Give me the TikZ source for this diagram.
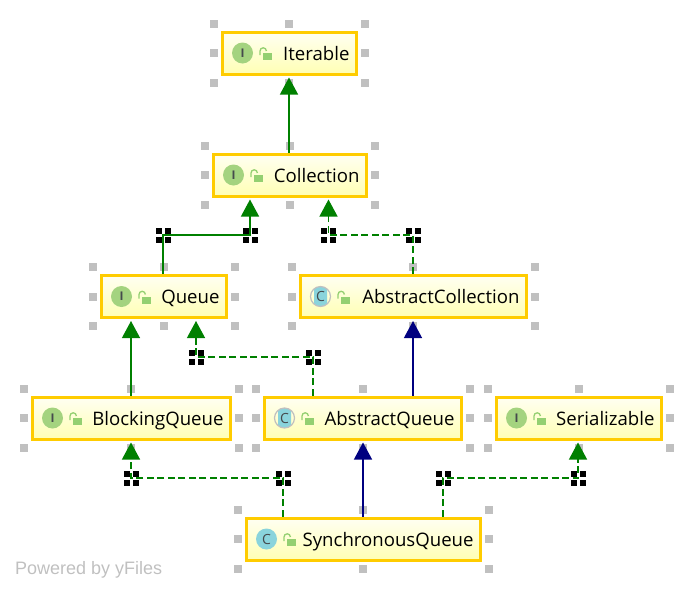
\documentclass[tikz,border=0pt]{standalone}
\usepackage{fontspec}
\setmainfont{Open Sans}
\newfontfamily\brandfont{Liberation Sans}
\usetikzlibrary{arrows.meta}

\definecolor{boxedge}{HTML}{FFCC00}
\definecolor{boxtop}{HTML}{FFFFF2}
\definecolor{boxbottom}{HTML}{FFFFB4}
\definecolor{handlegrey}{HTML}{C0C0C0}
\definecolor{ifacegreen}{HTML}{A4D37F}
\definecolor{classteal}{HTML}{8AD4DC}
\definecolor{lockgreen}{HTML}{94D071}
\definecolor{extgreen}{HTML}{008000}
\definecolor{extnavy}{HTML}{000080}
\definecolor{icontext}{HTML}{454A4C}

\tikzset{
	classbox/.style={rectangle, draw=boxedge, line width=3pt, top color=boxtop, bottom color=boxbottom, minimum height=42, inner xsep=6.5, inner ysep=0, text width=#1-15, text height=15, text depth=1, align=right, font=\fontsize{18.6}{20}\selectfont, text=black},
	ifaceicon/.style={circle, fill=ifacegreen, minimum size=21, inner sep=0, text=icontext, font=\fontsize{12}{12}\bfseries\rmfamily\selectfont},
	classicon/.style={circle, fill=classteal, minimum size=21, inner sep=0, text=icontext, font=\fontsize{14}{14}\selectfont},
	abstracticon/.style={circle, draw=handlegrey, line width=1.2pt, minimum size=20, inner sep=0, text=icontext, font=\fontsize{14}{14}\selectfont,
		path picture={\fill[classteal, rounded corners=2] ([xshift=-6.5,yshift=-10]path picture bounding box.center) rectangle ([xshift=6.5,yshift=10]path picture bounding box.center);}},
	bendmark/.style={rectangle, minimum size=16, inner sep=0,
		path picture={
			\foreach \sx in {-1,1}
				\foreach \sy in {-1,1}
					\fill[black] ([xshift=\sx*1.5,yshift=\sy*1.5]path picture bounding box.center) rectangle ([xshift=\sx*7.5,yshift=\sy*7.5]path picture bounding box.center);
		}},
	extends/.style={line width=1.25pt, shorten >=2, -{Triangle[length=17,width=18]}},
	realises/.style={extends, dash pattern=on 7 off 3.5}
}

% the eight grey squares round a class box
\newcommand{\handles}[1]{
	\foreach \anc/\dx/\dy in {north west/-7/7, north/0/7, north east/7/7, west/-7/0, east/7/0, south west/-7/-7, south/0/-7, south east/7/-7}
		\fill[handlegrey] ([xshift=\dx-4,yshift=\dy-4]#1.\anc) rectangle ([xshift=\dx+4,yshift=\dy+4]#1.\anc);
}

\begin{document}
\begin{tikzpicture}[x=1pt,y=-1pt]
	\useasboundingbox (0,0) rectangle (693,592);

	\pgfmathsetmacro{\rowone}{53}
	\pgfmathsetmacro{\rowtwo}{175}
	\pgfmathsetmacro{\rowthree}{296.5}
	\pgfmathsetmacro{\rowfour}{418}
	\pgfmathsetmacro{\rowfive}{539}

	%Class boxes
	\node [classbox=136] (iterable) at (289,\rowone) {Iterable};
	\node [classbox=155] (collection) at (289.5,\rowtwo) {Collection};
	\node [classbox=127] (queue) at (163.5,\rowthree) {Queue};
	\node [classbox=228] (abstractcollection) at (413,\rowthree) {AbstractCollection};
	\node [classbox=200] (blockingqueue) at (131,\rowfour) {BlockingQueue};
	\node [classbox=199] (abstractqueue) at (362.5,\rowfour) {AbstractQueue};
	\node [classbox=167] (serializable) at (578.5,\rowfour) {Serializable};
	\node [classbox=236] (synchronousqueue) at (363,\rowfive) {SynchronousQueue};

	\handles{iterable}
	\handles{collection}
	\handles{queue}
	\handles{abstractcollection}
	\handles{blockingqueue}
	\handles{abstractqueue}
	\handles{serializable}
	\handles{synchronousqueue}

	%Kind icons
	\node [ifaceicon] (iiterable) at ([xshift=22]iterable.west) {I};
	\node [ifaceicon] (icollection) at ([xshift=22]collection.west) {I};
	\node [ifaceicon] (iqueue) at ([xshift=22]queue.west) {I};
	\node [abstracticon] (iabstractcollection) at ([xshift=22]abstractcollection.west) {C};
	\node [ifaceicon] (iblockingqueue) at ([xshift=22]blockingqueue.west) {I};
	\node [abstracticon] (iabstractqueue) at ([xshift=22]abstractqueue.west) {C};
	\node [ifaceicon] (iserializable) at ([xshift=22]serializable.west) {I};
	\node [classicon] (isynchronousqueue) at ([xshift=22]synchronousqueue.west) {C};

	%Open locks
	\foreach \cname in {iterable,collection,queue,abstractcollection,blockingqueue,abstractqueue,serializable,synchronousqueue}{
		\fill[lockgreen] ([xshift=42,yshift=0]\cname.west) rectangle ([xshift=51,yshift=-7]\cname.west);
		\draw[lockgreen, line width=1.3pt] ([xshift=39.5,yshift=-2]\cname.west) -- ([xshift=39.5,yshift=2]\cname.west) arc[start angle=180, end angle=360, radius=3.2];
	}

	%Bend points
	\node [bendmark] (bqa) at (163,235) {};
	\node [bendmark] (bqb) at (250,235) {};
	\node [bendmark] (bca) at (413,235) {};
	\node [bendmark] (bcb) at (328.5,235) {};
	\node [bendmark] (baa) at (313,357) {};
	\node [bendmark] (bab) at (196,357) {};
	\node [bendmark] (bsa) at (283,478) {};
	\node [bendmark] (bsb) at (131,478) {};
	\node [bendmark] (bsc) at (443,478) {};
	\node [bendmark] (bsd) at (578,478) {};

	%Inheritance lines
	\draw [extends, extgreen] (iterable.south |- collection.north) -- (iterable.south);
	\draw [extends, extgreen] (queue.north -| bqa) -- (bqa.center) -- (bqb.center) -- (collection.south -| bqb);
	\draw [realises, extgreen] (abstractcollection.north -| bca) -- (bca.center) -- (bcb.center) -- (collection.south -| bcb);
	\draw [extends, extgreen] (blockingqueue.north) -- (blockingqueue.north |- queue.south);
	\draw [realises, extgreen] (abstractqueue.north -| baa) -- (baa.center) -- (bab.center) -- (queue.south -| bab);
	\draw [extends, extnavy] (abstractcollection.south |- abstractqueue.north) -- (abstractcollection.south);
	\draw [realises, extgreen] (synchronousqueue.north -| bsa) -- (bsa.center) -- (bsb.center) -- (blockingqueue.south -| bsb);
	\draw [extends, extnavy] (synchronousqueue.north) -- (abstractqueue.south -| synchronousqueue.north);
	\draw [realises, extgreen] (synchronousqueue.north -| bsc) -- (bsc.center) -- (bsd.center) -- (serializable.south -| bsd);

	\node [anchor=west, inner sep=0, text=handlegrey, font=\brandfont\fontsize{18}{18}\selectfont] (poweredby) at (15,570) {Powered by yFiles};
\end{tikzpicture}
\end{document}
